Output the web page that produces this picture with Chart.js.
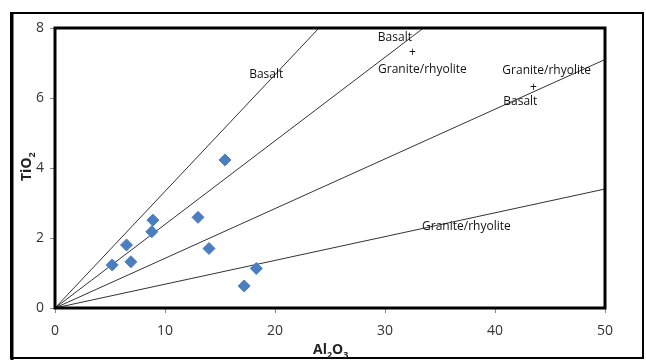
<!DOCTYPE html>
<html>
<head>
<meta charset="utf-8">
<script src="https://cdn.jsdelivr.net/npm/chart.js@4/dist/chart.umd.min.js"></script>
<style>
  html, body { margin: 0; padding: 0; background: #fff; }
  #wrap { width: 646px; height: 360px; }
</style>
</head>
<body>
<div id="wrap"><canvas id="chart" width="646" height="360"></canvas></div>
<script>
// Sample values (Al2O3 vs TiO2)
const alValues = [5.2, 6.5, 6.9, 8.9, 8.8, 13.0, 14.0, 15.45, 17.2, 18.3];
const tiValues = [1.23, 1.8, 1.32, 2.51, 2.18, 2.59, 1.70, 4.23, 0.63, 1.13];

// Discrimination lines from the origin, end points
const lineEndX = [24, 33.5, 50, 50];
const lineEndY = [8, 8, 7.1, 3.4];

// Field labels
const fieldText = ['Basalt', 'Basalt', '+', 'Granite/rhyolite', 'Granite/rhyolite', '+', 'Basalt', 'Granite/rhyolite'];
const fieldX = [19.2, 30.9, 32.5, 33.4, 44.7, 43.5, 42.3, 37.4];
const fieldY = [6.66, 7.74, 7.29, 6.8, 6.77, 6.31, 5.91, 2.34];

const xTicks = [0, 10, 20, 30, 40, 50];
const yTicks = [0, 2, 4, 6, 8];

const lineSets = lineEndX.map((x, i) => ({
    type: 'line',
    data: [{ x: 0, y: 0 }, { x: x, y: lineEndY[i] }],
    borderColor: '#333',
    borderWidth: 1,
    pointRadius: 0,
    fill: false,
    order: 2
}));

// Outer frame, plot frame, axis titles and field labels
const decorPlugin = {
    id: 'decor',
    afterDraw(chart) {
        const { ctx, chartArea: a, scales } = chart;
        ctx.save();
        // outer frame
        ctx.strokeStyle = '#000';
        ctx.lineWidth = 2;
        ctx.strokeRect(11, 13, 632, 345);
        ctx.lineWidth = 3;
        ctx.beginPath();
        ctx.moveTo(12, 12);
        ctx.lineTo(12, 360);
        ctx.stroke();
        // plot frame
        ctx.lineWidth = 3;
        ctx.strokeRect(a.left, a.top, a.right - a.left, a.bottom - a.top);

        // field labels
        ctx.fillStyle = '#111';
        ctx.font = '12px "Open Sans"';
        ctx.textAlign = 'center';
        ctx.textBaseline = 'middle';
        fieldText.forEach((t, i) => {
            ctx.fillText(t, scales.x.getPixelForValue(fieldX[i]), scales.y.getPixelForValue(fieldY[i]));
        });

        // x title Al2O3
        ctx.fillStyle = '#222';
        ctx.textAlign = 'left';
        ctx.textBaseline = 'alphabetic';
        const big = 'bold 14px "Open Sans"';
        const small = 'bold 9px "Open Sans"';
        const parts = [['Al', big, 0], ['2', small, 4], ['O', big, 0], ['3', small, 4]];
        let x = 313;
        parts.forEach(p => {
            ctx.font = p[1];
            ctx.fillText(p[0], x, 354 + p[2]);
            x += ctx.measureText(p[0]).width;
        });

        // y title TiO2
        ctx.translate(31, 181);
        ctx.rotate(-Math.PI / 2);
        const yparts = [['TiO', big, 0], ['2', small, 4]];
        let yx = 0;
        yparts.forEach(p => {
            ctx.font = p[1];
            ctx.fillText(p[0], yx, 0 + p[2]);
            yx += ctx.measureText(p[0]).width;
        });
        ctx.restore();
    }
};

new Chart(document.getElementById('chart'), {
    type: 'scatter',
    data: {
        datasets: [{
            data: alValues.map((v, i) => ({ x: v, y: tiValues[i] })),
            backgroundColor: '#4a7ebf',
            borderColor: '#4a7ebf',
            pointStyle: 'rectRot',
            pointRadius: 6,
            order: 1
        }, ...lineSets]
    },
    options: {
        responsive: false,
        animation: false,
        layout: { padding: { left: 0, right: 41, top: 28, bottom: 0 } },
        scales: {
            x: {
                type: 'linear',
                min: 0,
                max: 50,
                afterFit: (s) => { s.height = 52; },
                afterBuildTicks: (s) => { s.ticks = xTicks.map(v => ({ value: v })); },
                ticks: {
                    color: '#333',
                    padding: 10,
                    font: { family: 'Open Sans', size: 14 }
                },
                grid: {
                    drawOnChartArea: false,
                    tickLength: 5,
                    color: '#888'
                },
                border: { display: false }
            },
            y: {
                min: 0,
                max: 8,
                afterFit: (s) => { s.width = 55; },
                afterBuildTicks: (s) => { s.ticks = yTicks.map(v => ({ value: v })); },
                ticks: {
                    color: '#333',
                    padding: 6,
                    font: { family: 'Open Sans', size: 14 }
                },
                grid: {
                    drawOnChartArea: false,
                    tickLength: 5,
                    color: '#888'
                },
                border: { display: false }
            }
        },
        plugins: {
            legend: { display: false },
            tooltip: { enabled: false }
        }
    },
    plugins: [decorPlugin]
});
</script>
</body>
</html>
